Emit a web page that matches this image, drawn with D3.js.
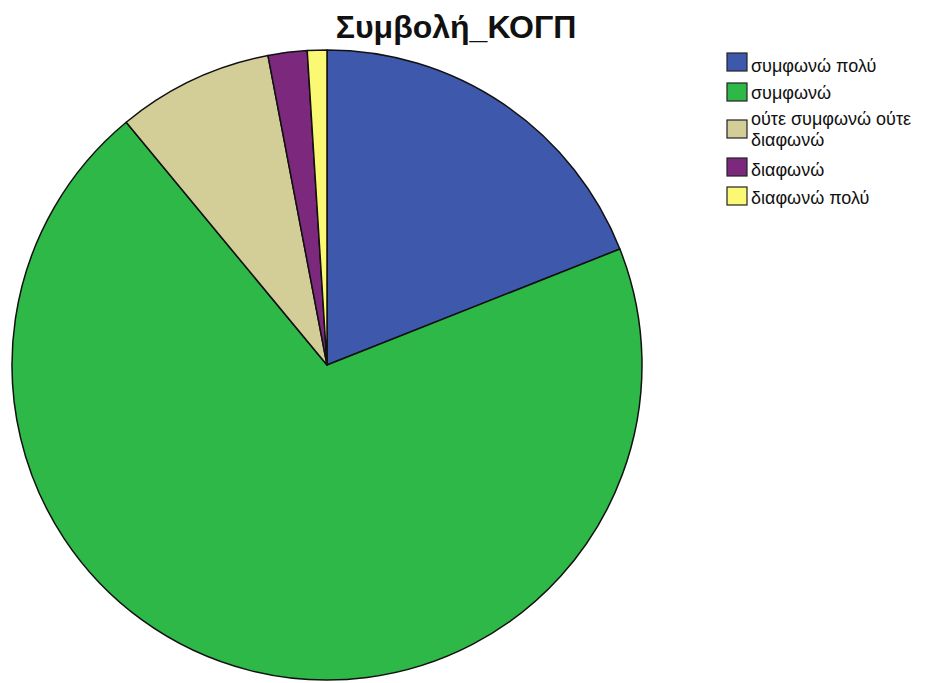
<!DOCTYPE html>
<html>
<head>
<meta charset="utf-8">
<script src="https://cdn.jsdelivr.net/npm/d3@7"></script>
<style>
  body { margin: 0; background: #fff; }
</style>
</head>
<body>
<div id="chart"></div>
<script>
var categories = ["συμφωνώ πολύ", "συμφωνώ", "ούτε συμφωνώ ούτε διαφωνώ", "διαφωνώ", "διαφωνώ πολύ"];
var values = [19, 70, 8, 2, 1];
var colors = ["#3e58ac", "#2eb848", "#d3ce97", "#7c287d", "#fbf873"];
// legend text split over lines like the original
var legendLines = [["συμφωνώ πολύ"], ["συμφωνώ"], ["ούτε συμφωνώ ούτε", "διαφωνώ"], ["διαφωνώ"], ["διαφωνώ πολύ"]];

var width = 948, height = 683;
var cx = 327, cy = 365, radius = 315;

var svg = d3.select("#chart").append("svg")
    .attr("width", width)
    .attr("height", height);

svg.append("text")
    .attr("x", 456)
    .attr("y", 38)
    .attr("text-anchor", "middle")
    .attr("font-family", "Liberation Sans, Arial, sans-serif")
    .attr("font-weight", "bold")
    .attr("font-size", "32px")
    .attr("fill", "#111")
    .text("Συμβολή_ΚΟΓΠ");

var pie = d3.pie().sort(null).value(function(d) { return d; });
var arc = d3.arc().innerRadius(0).outerRadius(radius);

var color = d3.scaleOrdinal().domain(categories).range(colors);

var g = svg.append("g")
    .attr("transform", "translate(" + cx + "," + cy + ")");

g.selectAll("path")
    .data(pie(values))
    .enter().append("path")
    .attr("d", arc)
    .attr("fill", function(d, i) { return color(categories[i]); })
    .attr("stroke", "#111")
    .attr("stroke-width", 1.5)
    .attr("stroke-linejoin", "round");

// legend
var rowY = [53, 83, 120, 158, 187];
var textDy = [19, 16, 5, 18, 17];
var legend = svg.append("g").attr("class", "legend");

categories.forEach(function(c, i) {
  var row = legend.append("g")
    .attr("transform", "translate(727," + rowY[i] + ")");
  row.append("rect")
    .attr("width", 20)
    .attr("height", 18)
    .attr("fill", color(c))
    .attr("stroke", "#222")
    .attr("stroke-width", 1.2);
  var t = row.append("text")
    .attr("font-family", "Liberation Sans, Arial, sans-serif")
    .attr("font-size", "18px")
    .attr("fill", "#111");
  legendLines[i].forEach(function(line, j) {
    t.append("tspan")
      .attr("x", 24)
      .attr("y", textDy[i] + j * 21)
      .text(line);
  });
});
</script>
</body>
</html>
